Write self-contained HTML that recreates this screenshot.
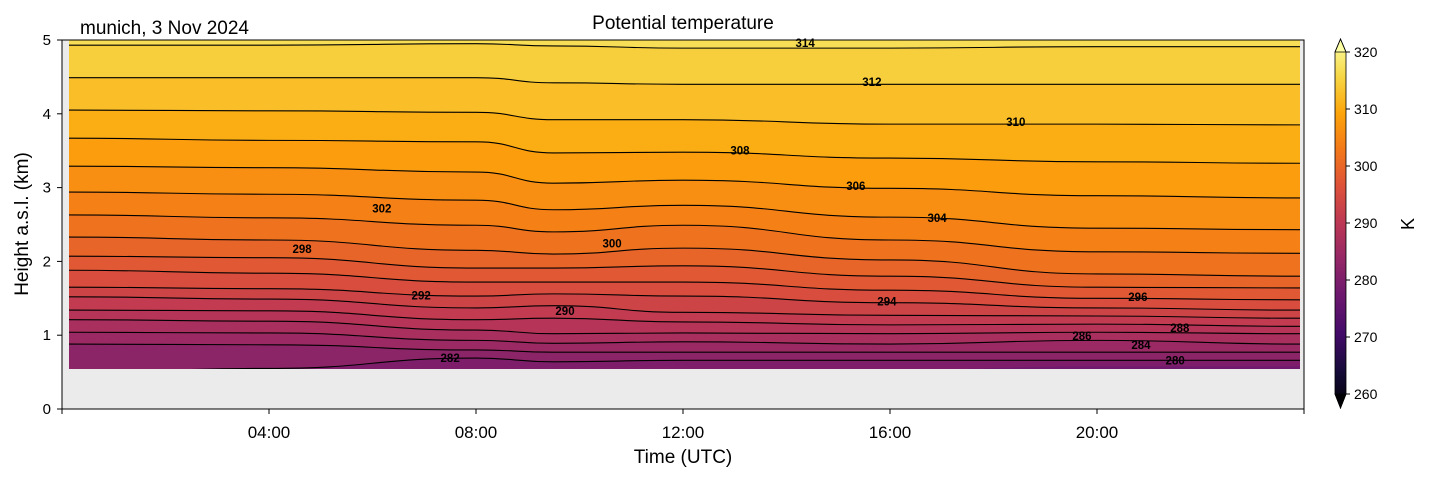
<!DOCTYPE html>
<html><head><meta charset="utf-8"><style>
body{margin:0;background:#fff;}
svg{display:block;font-family:"Liberation Sans","DejaVu Sans",sans-serif;}
</style></head><body>
<svg id="chart" width="1429" height="478" viewBox="0 0 1429 478">
<defs>
<linearGradient id="cbgrad" x1="0" y1="1" x2="0" y2="0">
<stop offset="0" stop-color="#000004"/><stop offset="0.1" stop-color="#160b39"/><stop offset="0.2" stop-color="#420a68"/><stop offset="0.3" stop-color="#6a176e"/><stop offset="0.4" stop-color="#932667"/><stop offset="0.5" stop-color="#bc3754"/><stop offset="0.6" stop-color="#dd513a"/><stop offset="0.7" stop-color="#f37819"/><stop offset="0.8" stop-color="#fca50a"/><stop offset="0.9" stop-color="#f6d746"/><stop offset="1" stop-color="#fcffa4"/>
</linearGradient>
<clipPath id="dataclip"><rect x="69" y="40" width="1231" height="329"/></clipPath>
</defs>
<rect x="62" y="40" width="1242" height="369" fill="#ebebeb"/>
<g id="fills" clip-path="url(#dataclip)"></g>
<g id="lines" clip-path="url(#dataclip)"></g>
<g id="labels"></g>
<rect x="62" y="40" width="1242" height="369" fill="none" stroke="#000" stroke-width="1"/>
<g id="axes"></g>
<text x="683" y="29" font-size="19" text-anchor="middle">Potential temperature</text>
<text x="80" y="34" font-size="19">munich, 3 Nov 2024</text>
<text x="683" y="463" font-size="19" text-anchor="middle">Time (UTC)</text>
<text transform="translate(28,224) rotate(-90)" font-size="19" text-anchor="middle">Height a.s.l. (km)</text>
<g id="colorbar">
<polygon points="1335,52 1340.5,39 1346,52 1346,394 1340.5,408 1335,394" fill="url(#cbgrad)"/>
<polygon points="1335,52 1340.5,39 1346,52" fill="#fcffa4" stroke="#000" stroke-width="0.8"/>
<polygon points="1335,394 1340.5,408 1346,394" fill="#000004" stroke="#000" stroke-width="0.8"/>
<polygon points="1335,52 1340.5,39 1346,52 1346,394 1340.5,408 1335,394" fill="none" stroke="#000" stroke-width="0.8"/>
<text transform="translate(1414,224) rotate(-90)" font-size="18" text-anchor="middle">K</text>
</g>
</svg>
<script>
const times=[0.13,4,8,9.5,12,16,20,23.9];
const levels=[280,282,284,286,288,290,292,294,296,298,300,302,304,306,308,310,312,314];
const h280=[.53,.53,.53,.53,.53,.53,.58,.58];
const h282=[.50,.55,.69,.64,.66,.66,.66,.66];
const h284=[.88,.87,.80,.77,.77,.77,.77,.77];
const h286=[1.04,1.03,.93,.89,.91,.88,.93,.88];
const h288=[1.21,1.19,1.07,1.02,1.03,1.02,1.04,1.02];
const h290=[1.34,1.33,1.21,1.23,1.18,1.14,1.15,1.12];
const h292=[1.52,1.49,1.37,1.40,1.31,1.27,1.26,1.23];
const h294=[1.65,1.63,1.53,1.56,1.53,1.44,1.37,1.34];
const h296=[1.88,1.84,1.72,1.72,1.72,1.61,1.50,1.48];
const h298=[2.07,2.05,1.91,1.91,1.94,1.80,1.65,1.64];
const h300=[2.33,2.29,2.15,2.10,2.18,2.02,1.83,1.80];
const h302=[2.63,2.59,2.49,2.40,2.49,2.29,2.13,2.11];
const h304=[2.94,2.91,2.83,2.70,2.76,2.60,2.45,2.43];
const h306=[3.29,3.27,3.21,3.06,3.10,2.99,2.89,2.86];
const h308=[3.67,3.64,3.62,3.47,3.48,3.40,3.35,3.33];
const h310=[4.05,4.04,4.02,3.92,3.92,3.86,3.86,3.85];
const h312=[4.49,4.49,4.49,4.42,4.40,4.40,4.40,4.40];
const h314=[4.93,4.93,4.95,4.92,4.89,4.89,4.91,4.91];
const contourHeights=[h280,h282,h284,h286,h288,h290,h292,h294,h296,h298,h300,h302,h304,h306,h308,h310,h312,h314];
const labelLevels=[314,312,310,308,306,304,302,300,298,296,294,292,290,288,286,284,282,280];
const labelTimes=[14.36,15.65,18.43,13.10,15.34,16.91,6.18,10.63,4.64,20.79,15.94,6.94,9.72,21.60,19.71,20.85,7.50,21.51];
const labelHeights=[4.96,4.43,3.89,3.50,3.02,2.59,2.72,2.24,2.17,1.52,1.46,1.54,1.33,1.10,0.99,0.87,0.69,0.66];
const yTicks=[0,1,2,3,4,5];
const xTicks=[4,8,12,16,20];
const xTickLabels=["04:00","08:00","12:00","16:00","20:00"];
const cbTicks=[260,270,280,290,300,310,320];

const NS="http://www.w3.org/2000/svg";
const X=t=>62+(t/24)*1242;
const Y=h=>409-(h/5)*369;
const CY=v=>394-(v-260)/60*342;
const stops=[[0,[0,0,4]],[.1,[22,11,57]],[.2,[66,10,104]],[.3,[106,23,110]],[.4,[147,38,103]],[.5,[188,55,84]],[.6,[221,81,58]],[.7,[243,120,25]],[.8,[252,165,10]],[.9,[246,215,70]],[1,[252,255,164]]];
function inferno(v){let t=Math.max(0,Math.min(1,(v-260)/60));for(let i=1;i<stops.length;i++){if(t<=stops[i][0]){const a=stops[i-1],b=stops[i],f=(t-a[0])/(b[0]-a[0]);return 'rgb('+a[1].map((c,k)=>Math.round(c+(b[1][k]-c)*f)).join(',')+')';}}return 'rgb(252,255,164)';}
function el(tag,attrs,parent){const e=document.createElementNS(NS,tag);for(const k in attrs)e.setAttribute(k,attrs[k]);parent.appendChild(e);return e;}
function pathFor(hs){
  const pts=times.map((t,i)=>[X(t),Y(hs[i])]);
  pts.unshift([X(0),pts[0][1]]);pts.push([X(24),pts[pts.length-1][1]]);
  let d='M'+pts[0][0]+','+pts[0][1];
  for(let i=1;i<pts.length;i++){const p0=pts[i-1],p1=pts[i],mx=(p0[0]+p1[0])/2;d+=' C'+mx+','+p0[1]+' '+mx+','+p1[1]+' '+p1[0]+','+p1[1];}
  return d;
}
const fills=document.getElementById('fills'),lines=document.getElementById('lines');
const base=el('rect',{x:69,y:40,width:1231,height:329,fill:inferno(279)},fills);


levels.forEach((L,i)=>{
  const d=pathFor(contourHeights[i]);
  const f=el('path',{d:d+' L'+X(24)+',30 L'+X(0)+',30 Z',fill:inferno(L+1)},fills);
  
  
});
levels.forEach((L,i)=>{
  if(L===280)return;
  const p=el('path',{d:pathFor(contourHeights[i]),fill:'none',stroke:'#000','stroke-width':1.1},lines);
  
  
});
const lab=document.getElementById('labels');
labelLevels.forEach((L,i)=>{
  const t=el('text',{x:X(labelTimes[i]),y:Y(labelHeights[i])+4,'font-size':11.5,'font-weight':'bold','text-anchor':'middle'},lab);
  t.textContent=L;
  
  
});
const ax=document.getElementById('axes');
yTicks.forEach(v=>{
  const l=el('line',{x1:57,x2:62,y1:Y(v),y2:Y(v),stroke:'#000'},ax);
  
  
  const t=el('text',{x:51,y:Y(v)+5,'font-size':15,'text-anchor':'end'},ax);t.textContent=v;
  
  
});
xTicks.forEach((v,i)=>{
  const l=el('line',{x1:X(v),x2:X(v),y1:409,y2:414,stroke:'#000'},ax);
  
  
  const t=el('text',{x:X(v),y:438,'font-size':17,'text-anchor':'middle'},ax);t.textContent=xTickLabels[i];
  
  
});
[0,24].forEach(v=>{const l=el('line',{x1:X(v),x2:X(v),y1:409,y2:414,stroke:'#000'},ax);
  
  });
const cb=document.getElementById('colorbar');
cbTicks.forEach(v=>{
  const l=el('line',{x1:1346,x2:1350,y1:CY(v),y2:CY(v),stroke:'#000'},cb);
  
  
  const t=el('text',{x:1354,y:CY(v)+5,'font-size':14},cb);t.textContent=v;
  
  
});
</script>
</body></html>
